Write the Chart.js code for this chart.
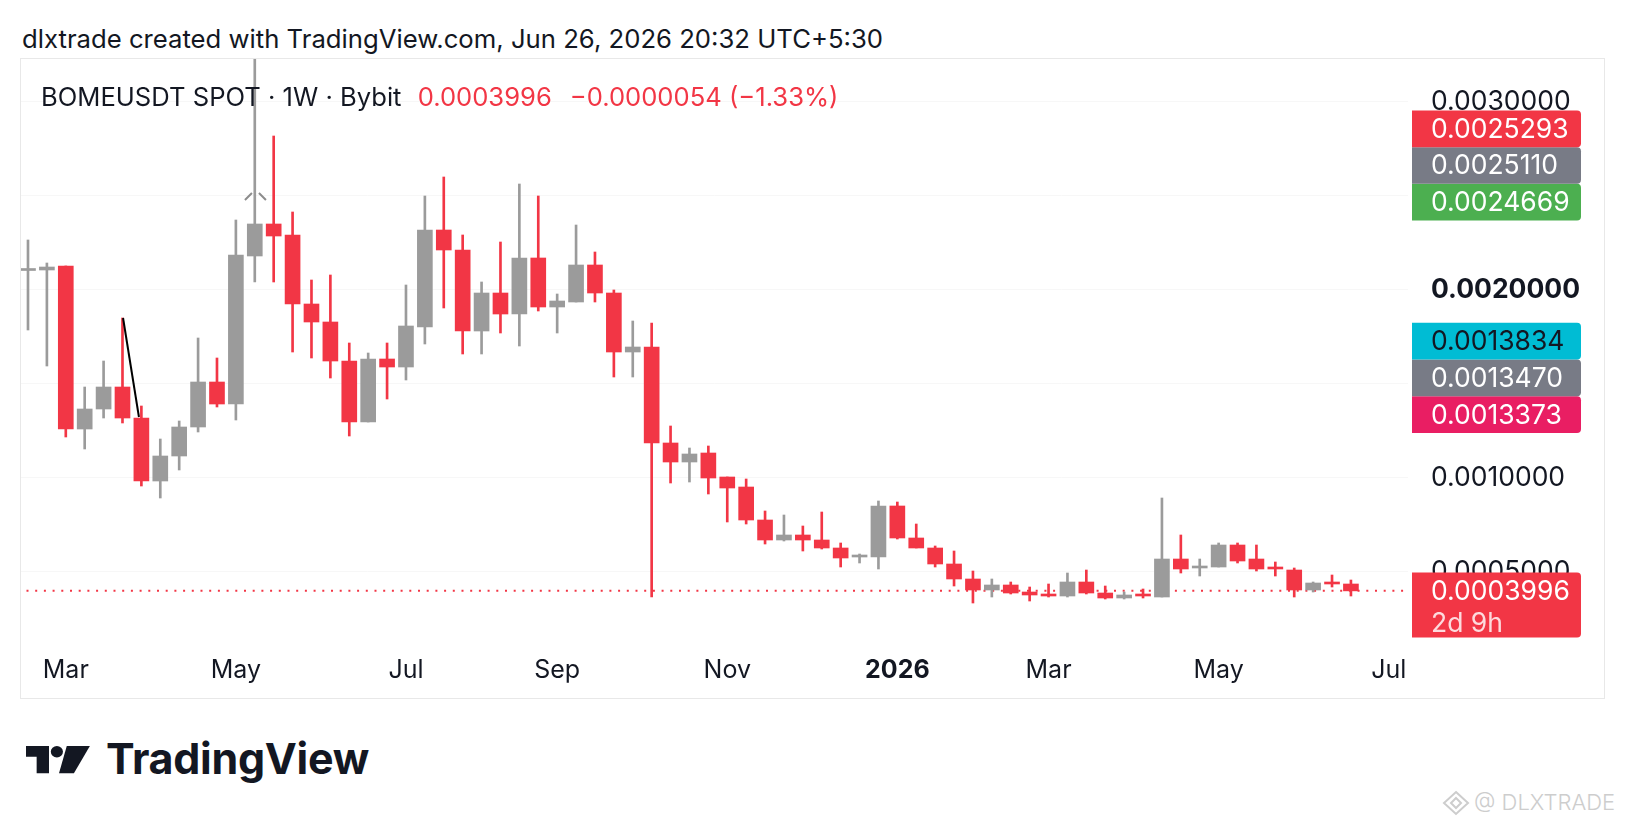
<!DOCTYPE html>
<html>
<head>
<meta charset="utf-8">
<title>BOMEUSDT 1W</title>
<script src="https://cdn.jsdelivr.net/npm/chart.js@4.4.1/dist/chart.umd.min.js"></script>
<style>
  html, body { margin: 0; padding: 0; background: #fff; }
  body { width: 1626px; height: 828px; position: relative; overflow: hidden;
         font-family: Inter, "Noto Sans", sans-serif; color: #131722; }
  #header { position: absolute; left: 22px; top: 23px; font-size: 25.7px; line-height: 32px; white-space: nowrap; }
  #frame { position: absolute; left: 20px; top: 58px; width: 1583px; height: 639px; border: 1px solid #e8e8e8; }
  #chart { position: absolute; left: 0; top: 0; }
  #legend { position: absolute; left: 41px; top: 81px; font-size: 25.6px; line-height: 32px; white-space: nowrap; }
  #legend .red { color: #F23645; }
  #logo { position: absolute; left: 26px; top: 746px; }
  #logoText { position: absolute; left: 106px; top: 734px; font-size: 43px; line-height: 48px; font-weight: 700; letter-spacing: -0.3px; }
  #wm { position: absolute; left: 1442px; top: 789px; color: #cdcdcd; font-size: 22px; line-height: 26px; font-weight: 300; white-space: nowrap; }
  #wm svg { vertical-align: -6px; margin-right: 4px; }
</style>
</head>
<body>
<div id="header">dlxtrade created with TradingView.com, Jun 26, 2026 20:32 UTC+5:30</div>
<div id="frame"><canvas id="chart" width="1583" height="639"></canvas></div>
<div id="legend">BOMEUSDT SPOT · 1W · Bybit <span class="red" style="margin-left:9px">0.0003996</span><span class="red" style="margin-left:18px">−0.0000054 (−1.33%)</span></div>
<svg id="logo" width="66" height="28" viewBox="0 0 62 28" preserveAspectRatio="none">
  <path d="M0 0H21.6V27.3H10V10.7H0Z" fill="#131722"/>
  <circle cx="29" cy="5.7" r="5.7" fill="#131722"/>
  <path d="M38.3 0H60L45 27.3H31Z" fill="#131722"/>
</svg>
<div id="logoText">TradingView</div>
<div id="wm"><svg width="28" height="26" viewBox="0 0 28 26"><g fill="none" stroke="#cdcdcd" stroke-width="2"><path d="M14 2L26 13L14 24L2 13Z"/><path d="M14 8L19 13L14 18L9 13Z"/></g></svg>@ DLXTRADE</div>

<script>
// weekly candles, Feb 17 2025 .. Jun 22 2026 (index 0..70)
const opens = [
  0.0021037, 0.0021064, 0.0021277, 0.0012606, 0.0013670, 0.0014840, 0.0013191, 0.0009840, 0.0011170, 0.0012713,
  0.0015106, 0.0013936, 0.0021809, 0.0023511, 0.0022926, 0.0019255, 0.0018298, 0.0016223, 0.0012979, 0.0016330,
  0.0015904, 0.0018032, 0.0023191, 0.0022128, 0.0017819, 0.0019840, 0.0018723, 0.0021702, 0.0019096, 0.0019362,
  0.0021330, 0.0019840, 0.0016702, 0.0016968, 0.0011862, 0.0010851, 0.0011330, 0.0010053, 0.0009521, 0.0007766,
  0.0006702, 0.0006968, 0.0006702, 0.0006277, 0.0005798, 0.0005798, 0.0008511, 0.0006809, 0.0006277, 0.0005426,
  0.0004628, 0.0004043, 0.0004309, 0.0003936, 0.0003830, 0.0003723, 0.0004468, 0.0003883, 0.0003617, 0.0003830,
  0.0003670, 0.0005691, 0.0005213, 0.0005266, 0.0006436, 0.0005691, 0.0005213, 0.0005106, 0.0004043, 0.0004468,
  0.0004362
];
const highs = [
  0.0022660, 0.0021436, 0.0021277, 0.0014840, 0.0016223, 0.0018511, 0.0013830, 0.0012074, 0.0013032, 0.0017447,
  0.0016383, 0.0023723, 0.0035000, 0.0028191, 0.0024149, 0.0020532, 0.0020798, 0.0017181, 0.0016649, 0.0017181,
  0.0020266, 0.0025000, 0.0026011, 0.0022926, 0.0020426, 0.0022553, 0.0025638, 0.0025000, 0.0019787, 0.0023457,
  0.0022021, 0.0020000, 0.0018351, 0.0018245, 0.0012766, 0.0011596, 0.0011702, 0.0010053, 0.0009947, 0.0008245,
  0.0008032, 0.0007447, 0.0008191, 0.0006543, 0.0005957, 0.0008777, 0.0008723, 0.0007553, 0.0006383, 0.0006117,
  0.0005053, 0.0004628, 0.0004468, 0.0004202, 0.0004362, 0.0004947, 0.0005106, 0.0004255, 0.0003936, 0.0004096,
  0.0008936, 0.0006968, 0.0005691, 0.0006543, 0.0006543, 0.0006436, 0.0005532, 0.0005213, 0.0004468, 0.0004840,
  0.0004574
];
const lows = [
  0.0017872, 0.0015957, 0.0012181, 0.0011543, 0.0013191, 0.0012926, 0.0009574, 0.0008936, 0.0010426, 0.0012447,
  0.0013777, 0.0013085, 0.0020426, 0.0020426, 0.0016702, 0.0016383, 0.0015319, 0.0012234, 0.0012979, 0.0014202,
  0.0015213, 0.0017128, 0.0019043, 0.0016596, 0.0016596, 0.0017713, 0.0017021, 0.0018883, 0.0017713, 0.0019362,
  0.0019362, 0.0015372, 0.0015372, 0.0003670, 0.0009734, 0.0009787, 0.0009149, 0.0007660, 0.0007553, 0.0006489,
  0.0006649, 0.0006117, 0.0006223, 0.0005266, 0.0005479, 0.0005160, 0.0006755, 0.0006277, 0.0005266, 0.0004255,
  0.0003351, 0.0003670, 0.0003830, 0.0003457, 0.0003670, 0.0003670, 0.0003830, 0.0003564, 0.0003564, 0.0003617,
  0.0003670, 0.0004947, 0.0004787, 0.0005266, 0.0005479, 0.0005053, 0.0004787, 0.0003670, 0.0003936, 0.0004202,
  0.0003723
];
const closes = [
  0.0021090, 0.0021223, 0.0012606, 0.0013670, 0.0014840, 0.0013191, 0.0009840, 0.0011170, 0.0012713, 0.0015106,
  0.0013936, 0.0021862, 0.0023511, 0.0022872, 0.0019255, 0.0018298, 0.0016223, 0.0012979, 0.0016330, 0.0015904,
  0.0018085, 0.0023191, 0.0022128, 0.0017819, 0.0019840, 0.0018723, 0.0021702, 0.0019096, 0.0019415, 0.0021330,
  0.0019840, 0.0016702, 0.0016968, 0.0011862, 0.0010851, 0.0011277, 0.0010000, 0.0009468, 0.0007766, 0.0006702,
  0.0006968, 0.0006702, 0.0006277, 0.0005745, 0.0005851, 0.0008511, 0.0006809, 0.0006277, 0.0005426, 0.0004628,
  0.0004043, 0.0004309, 0.0003883, 0.0003777, 0.0003723, 0.0004468, 0.0003883, 0.0003617, 0.0003777, 0.0003723,
  0.0005691, 0.0005160, 0.0005319, 0.0006436, 0.0005585, 0.0005160, 0.0005160, 0.0004043, 0.0004415, 0.0004362,
  0.0003996
];

const monthTicks = [2, 11, 20, 28, 37, 46, 54, 63, 72];
const monthLabels = ['Mar', 'May', 'Jul', 'Sep', 'Nov', '2026', 'Mar', 'May', 'Jul'];
const priceTicks = [0.0005, 0.001, 0.0015, 0.002, 0.0025, 0.003];

// drawings on the chart: trend line and the small caret over the May spike
const trendLine = [{x: 5.03, y: 0.0018511}, {x: 5.87, y: 0.0013245}];
const caret = [{x: 11.48, y: 0.0024787}, {x: 11.85, y: 0.0025160}, {x: 12.0, y: null},
               {x: 12.22, y: 0.0025160}, {x: 12.59, y: 0.0024787}];

// price scale labels
const lastPrice = 0.0003996;
const countdown = '2d 9h';
const sideValues = [0.0025293, 0.0025110, 0.0024669, 0.0013834, 0.0013470, 0.0013373];
const sideColors = ['#F23645', '#787B86', '#4CAF50', '#00BCD4', '#787B86', '#E91E63'];
const sideTextColors = ['#fff', '#fff', '#fff', '#131722', '#fff', '#fff'];

const RED = '#F23645';
const GRAY = '#9b9b9b';
const FONT = 'Inter, "Noto Sans", sans-serif';

Chart.defaults.font.family = FONT;
Chart.defaults.color = '#131722';

const idx = opens.map((o, i) => i);
const colors = idx.map(i => closes[i] >= opens[i] ? GRAY : RED);

function roundBox(ctx, x, y, w, h, r) {
  ctx.beginPath();
  if (ctx.roundRect) ctx.roundRect(x, y, w, h, [0, r, r, 0]);
  else ctx.rect(x, y, w, h);
  ctx.fill();
}

const sideLabelPlugin = {
  id: 'sideLabels',
  afterDraw(chart) {
    const ctx = chart.ctx;
    const area = chart.chartArea;
    const y = chart.scales.y;
    const bx = area.right + 4, bw = 169, bh = 36.7, tx = area.right + 23;
    ctx.save();
    ctx.font = '26.5px ' + FONT;
    ctx.textBaseline = 'middle';
    ctx.textAlign = 'left';

    // last price + countdown
    const py = y.getPixelForValue(lastPrice);
    ctx.fillStyle = RED;
    roundBox(ctx, bx, py - 18.3, bw, 65, 4);
    ctx.fillStyle = '#fff';
    ctx.fillText(lastPrice.toFixed(7), tx, py + 1);
    ctx.fillStyle = 'rgba(255,255,255,0.82)';
    ctx.fillText(countdown, tx, py + 33);

    // the others get stacked upwards when they collide
    const order = idx.slice(0, sideValues.length).sort((a, b) => sideValues[a] - sideValues[b]);
    let prev = Infinity;
    order.forEach(i => {
      const cy = Math.min(y.getPixelForValue(sideValues[i]), prev - bh);
      prev = cy;
      ctx.fillStyle = sideColors[i];
      roundBox(ctx, bx, cy - bh / 2, bw, bh, 4);
      ctx.fillStyle = sideTextColors[i];
      ctx.fillText(sideValues[i].toFixed(7), tx, cy + 1);
    });
    ctx.restore();
  }
};

const chart = new Chart(document.getElementById('chart'), {
  type: 'bar',
  data: {
    datasets: [
      {
        type: 'line',
        data: [{x: -1, y: lastPrice}, {x: 80, y: lastPrice}],
        borderColor: RED, borderWidth: 2, borderDash: [2, 6.7],
        pointRadius: 0, order: 6
      },
      {
        data: idx.map(i => ({x: i, y: [lows[i], highs[i]]})),
        backgroundColor: colors, barThickness: 2, grouped: false, order: 5
      },
      {
        data: idx.map(i => ({x: i, y: [opens[i], closes[i]]})),
        backgroundColor: colors, barThickness: 15, minBarLength: 2, grouped: false, order: 4
      },
      {
        type: 'line', data: trendLine,
        borderColor: '#000', borderWidth: 2, pointRadius: 0, order: 1
      },
      {
        type: 'line', data: caret, spanGaps: false,
        borderColor: '#8c8c8c', borderWidth: 2, pointRadius: 0, order: 1
      }
    ]
  },
  options: {
    responsive: false,
    animation: false,
    layout: { padding: 0 },
    plugins: { legend: { display: false }, tooltip: { enabled: false } },
    scales: {
      x: {
        type: 'linear', min: -0.37, max: 73.02, offset: false,
        grid: { display: false, drawTicks: false },
        border: { display: false },
        afterBuildTicks: s => { s.ticks = monthTicks.map(v => ({ value: v })); },
        afterFit: s => { s.height = 53; s.paddingLeft = 0; s.paddingRight = 0; },
        ticks: {
          autoSkip: false, maxRotation: 0, padding: 10, color: '#131722',
          callback: v => monthLabels[monthTicks.indexOf(v)],
          font: c => ({ size: 25, weight: c.tick && monthLabels[monthTicks.indexOf(c.tick.value)] === '2026' ? 'bold' : 'normal' })
        }
      },
      y: {
        position: 'right', min: 0.0001117, max: 0.0032287,
        grid: { color: '#f7f7f7', drawTicks: false },
        border: { display: false },
        afterBuildTicks: s => { s.ticks = priceTicks.map(v => ({ value: v })); },
        afterFit: s => { s.width = 196; s.paddingTop = 0; s.paddingBottom = 0; },
        ticks: {
          padding: 23, color: '#131722',
          callback: v => v.toFixed(7),
          font: c => ({ size: 26.5, weight: c.tick && c.tick.value === 0.002 ? 'bold' : 'normal' })
        }
      }
    }
  },
  plugins: [sideLabelPlugin]
});
</script>
</body>
</html>
